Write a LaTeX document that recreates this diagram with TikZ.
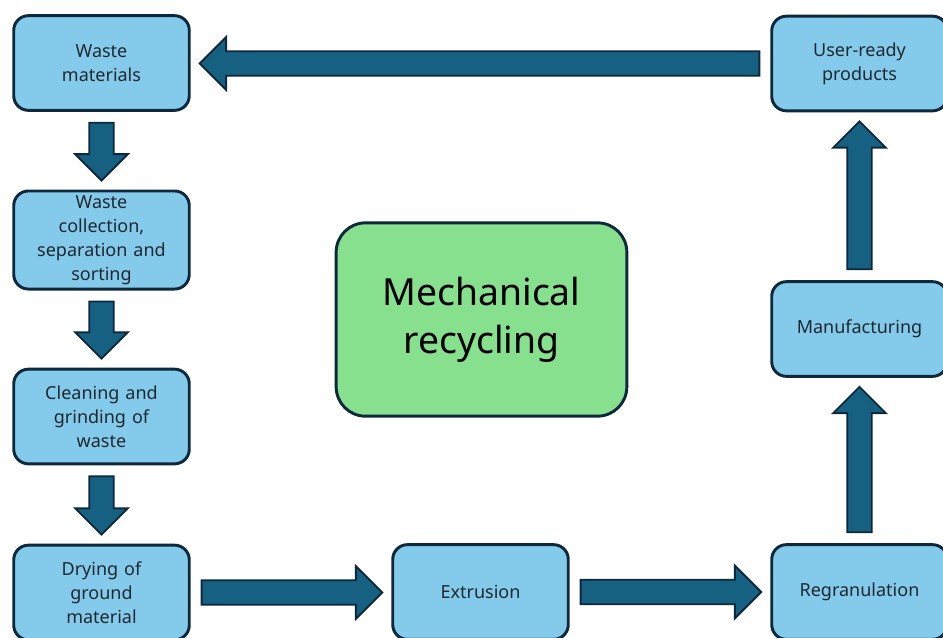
\documentclass[tikz,border=0pt]{standalone}
\usepackage{fontspec}
\setmainfont{Noto Sans}
\usetikzlibrary{shapes.arrows, calc}

\definecolor{stepblue}{RGB}{132,203,235}
\definecolor{stepgreen}{RGB}{134,224,142}
\definecolor{edgenavy}{RGB}{14,40,60}
\definecolor{arrowteal}{RGB}{22,96,130}
\definecolor{textdark}{RGB}{30,40,48}

% block arrow between two anchors, gap of 10px at each end
\newcommand{\flowarrow}[3]{%
  \path let \p1=($(#2)-(#1)$), \n1={veclen(\x1,\y1)} in
    node[flowarr, minimum height=\n1-15pt, rotate=#3, anchor=tail] at ($(#1)!7.5pt!(#2)$) {};}

\begin{document}
\begin{tikzpicture}[
          x=0.75pt, y=-0.75pt,
          stepbox/.style={
              draw=edgenavy,
              fill=stepblue,
              rounded corners=11pt,
              line width=2.2pt,
              minimum width=131pt,
              minimum height=71pt,
              text width=125pt,
              font=\fontsize{13.5}{18}\selectfont,
              text=textdark,
              align=center
            },
          centerbox/.style={
              draw=edgenavy,
              fill=stepgreen,
              rounded corners=22pt,
              line width=2.2pt,
              minimum width=218pt,
              minimum height=145pt,
              font=\fontsize{28}{36}\selectfont,
              align=center
            },
          flowarr/.style={
              single arrow,
              draw=edgenavy,
              fill=arrowteal,
              line width=1.4pt,
              inner xsep=0pt,
              inner ysep=8.5pt,
              single arrow head extend=10.5pt,
              single arrow tip angle=90
            }
        ]
        \useasboundingbox (0,0) rectangle (943,637);

        % left column
        \node[stepbox] (waste) at (101.5,63) {Waste\\materials};
        \node[stepbox] (collect) at (101.5,240) {Waste\\collection,\\separation and\\sorting};
        \node[stepbox] (clean) at (101.5,416.5) {Cleaning and\\grinding of\\waste};
        \node[stepbox] (dry) at (101.5,592.5) {Drying of\\ground\\material};

        % bottom row and right column
        \node[stepbox] (extrude) at (480.5,592) {Extrusion};
        \node[stepbox] (regran) at (859.5,592) {Regranulation};
        \node[stepbox] (manuf) at (859.5,329) {Manufacturing};
        \node[stepbox] (userready) at (859.5,63.5) {User-ready\\products};

        \node[centerbox] (mech) at (481.5,319.5) {Mechanical\\recycling};

        \flowarrow{waste.south}{collect.north}{-90}
        \flowarrow{collect.south}{clean.north}{-90}
        \flowarrow{clean.south}{dry.north}{-90}
        \flowarrow{dry.east}{extrude.west}{0}
        \flowarrow{extrude.east}{regran.west}{0}
        \flowarrow{regran.north}{manuf.south}{90}
        \flowarrow{manuf.north}{userready.south}{90}
        \flowarrow{userready.west}{waste.east}{180}
      \end{tikzpicture}
\end{document}
